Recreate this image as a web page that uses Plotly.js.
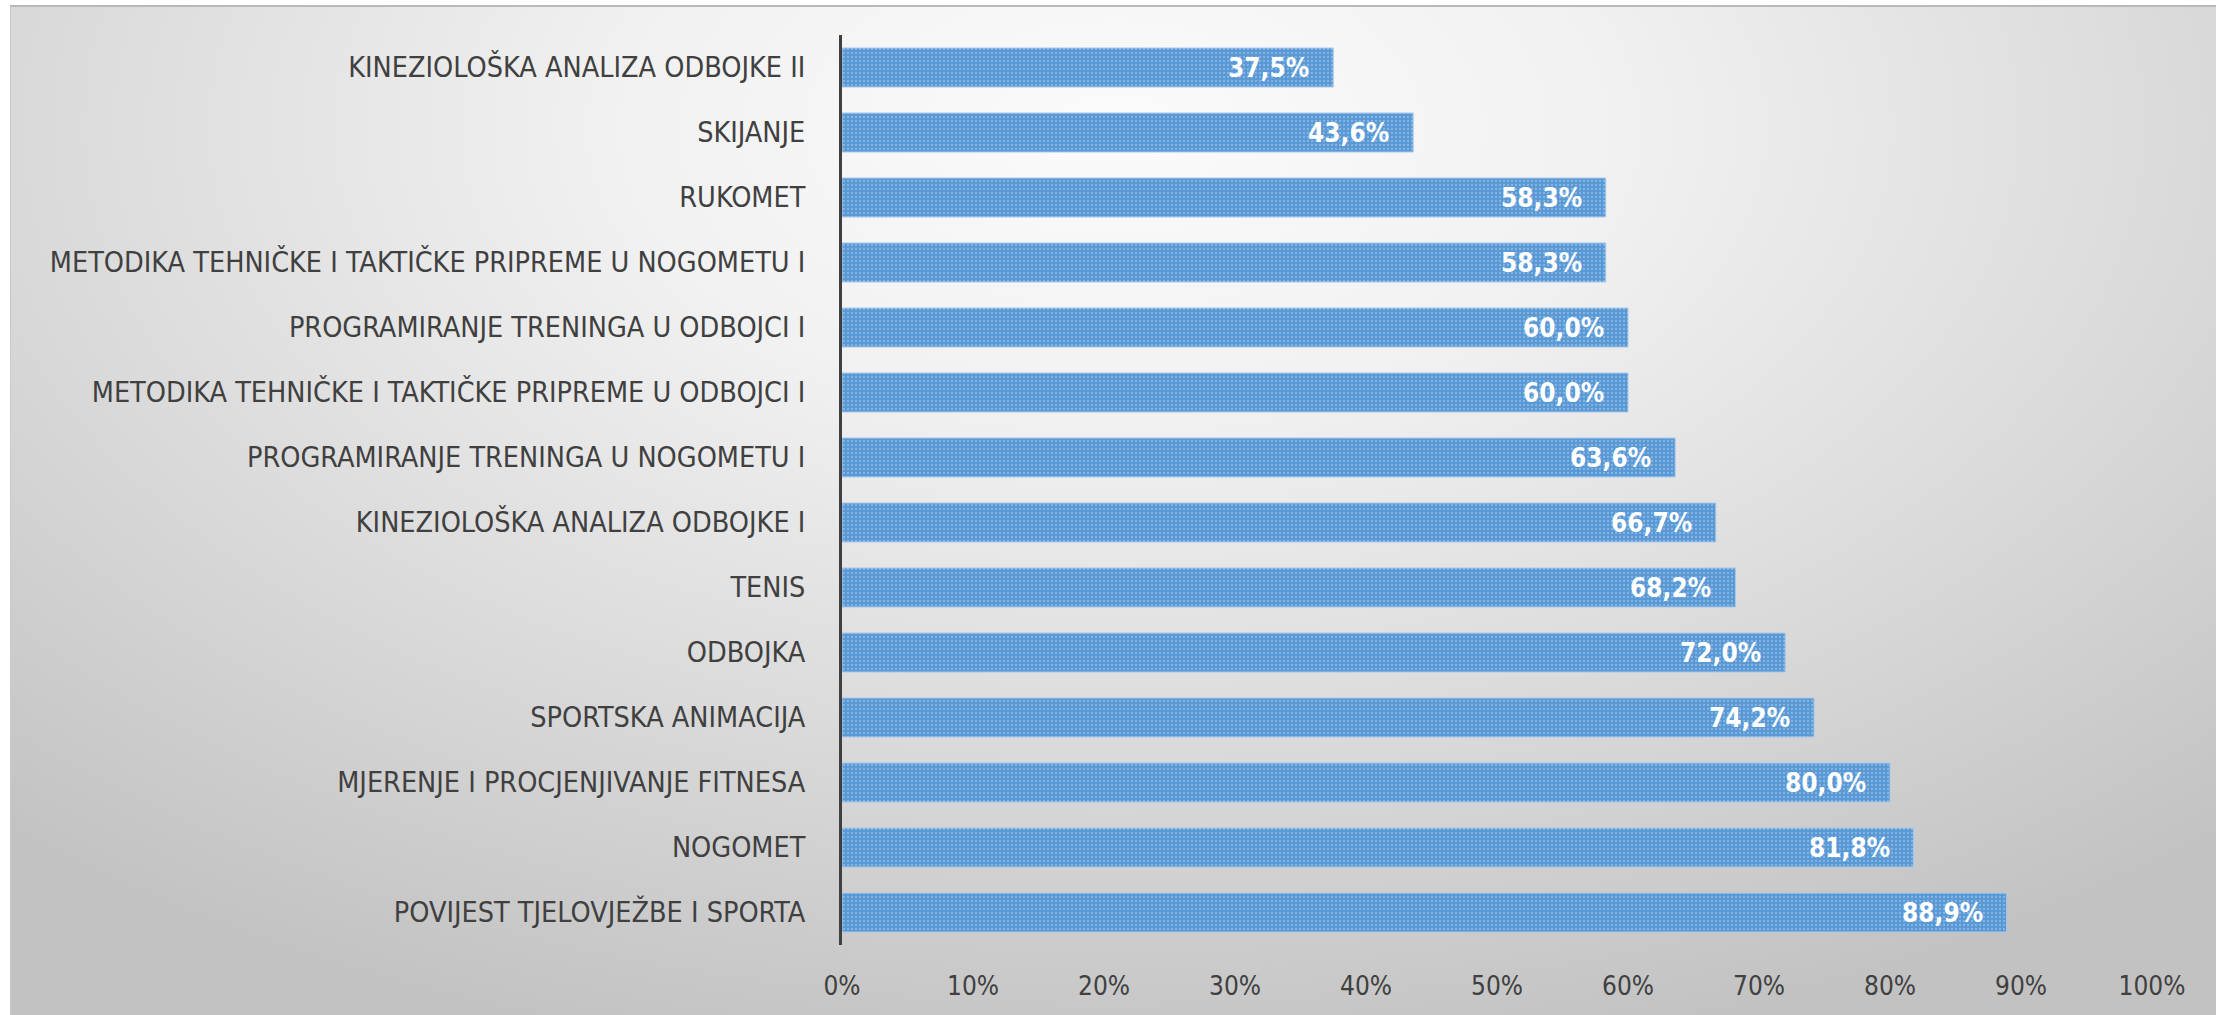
<!DOCTYPE html>
<html>
<head>
<meta charset="utf-8">
<script src="https://cdn.plot.ly/plotly-3.0.1.min.js"></script>
<style>
  html, body { margin: 0; padding: 0; background: #ffffff; width: 2221px; height: 1015px; overflow: hidden; }
  #bg {
    position: absolute; left: 10px; top: 5px; width: 2206px; height: 1010px;
    border-top: 2px solid #b9b9b9; border-left: 1px solid #c9c9c9; box-sizing: border-box;
    background: radial-gradient(ellipse 75% 95% at 50% 12%, #fbfbfb 0%, #f1f1f1 30%, #dcdcdc 62%, #c2c2c2 100%);
  }
  #chart { position: absolute; left: 0; top: 0; width: 2221px; height: 1015px; }
</style>
</head>
<body>
<div id="bg"></div>
<div id="chart"></div>
<script>
const categories = [
  "KINEZIOLOŠKA ANALIZA ODBOJKE II",
  "SKIJANJE",
  "RUKOMET",
  "METODIKA TEHNIČKE I TAKTIČKE PRIPREME U NOGOMETU I",
  "PROGRAMIRANJE TRENINGA U ODBOJCI I",
  "METODIKA TEHNIČKE I TAKTIČKE PRIPREME U ODBOJCI I",
  "PROGRAMIRANJE TRENINGA U NOGOMETU I",
  "KINEZIOLOŠKA ANALIZA ODBOJKE I",
  "TENIS",
  "ODBOJKA",
  "SPORTSKA ANIMACIJA",
  "MJERENJE I PROCJENJIVANJE FITNESA",
  "NOGOMET",
  "POVIJEST TJELOVJEŽBE I SPORTA"
];
const values = [0.375, 0.436, 0.583, 0.583, 0.600, 0.600, 0.636, 0.667, 0.682, 0.720, 0.742, 0.800, 0.818, 0.889];
const tickValues = [0, 0.1, 0.2, 0.3, 0.4, 0.5, 0.6, 0.7, 0.8, 0.9, 1.0];
const tickLabels = ["0%", "10%", "20%", "30%", "40%", "50%", "60%", "70%", "80%", "90%", "100%"];

const labelFont = "'Liberation Sans Narrow', 'DejaVu Sans Condensed', 'Liberation Sans', sans-serif";
const fmt = v => (v * 100).toFixed(1).replace('.', ',') + '%';

const trace = {
  type: 'bar',
  orientation: 'h',
  x: values,
  y: categories,
  marker: {
    color: '#5b9bd5',
    line: { color: '#a9c9ec', width: 1 },
    pattern: { shape: '.', fgcolor: '#88b6e4', bgcolor: '#5898d4', size: 4, solidity: 0.25, fillmode: 'replace' }
  },
  hoverinfo: 'skip'
};

const annotations = values.map((v, i) => ({
  x: v, y: categories[i], xref: 'x', yref: 'y',
  text: fmt(v), showarrow: false, xanchor: 'right', yanchor: 'middle', xshift: -22,
  font: { family: labelFont, size: 26, color: '#ffffff', weight: 'bold' }
}));

const layout = {
  width: 2221, height: 1015,
  paper_bgcolor: 'rgba(0,0,0,0)', plot_bgcolor: 'rgba(0,0,0,0)',
  margin: { l: 842, r: 69, t: 35, b: 70, pad: 0 },
  bargap: 0.4,
  showlegend: false,
  xaxis: {
    range: [0, 1], tickvals: tickValues, ticktext: tickLabels,
    showgrid: false, zeroline: false, showline: false, ticks: '',
    ticklabelstandoff: 23,
    tickfont: { family: labelFont, size: 26, color: '#404040' }
  },
  yaxis: {
    type: 'category', autorange: 'reversed',
    showgrid: false, zeroline: false, showline: true, linecolor: '#404040', linewidth: 3,
    ticks: '', ticklabelstandoff: 28,
    tickfont: { family: labelFont, size: 28.5, color: '#404040' }
  },
  annotations: annotations
};

Plotly.newPlot('chart', [trace], layout, { staticPlot: true, displayModeBar: false });
</script>
</body>
</html>
